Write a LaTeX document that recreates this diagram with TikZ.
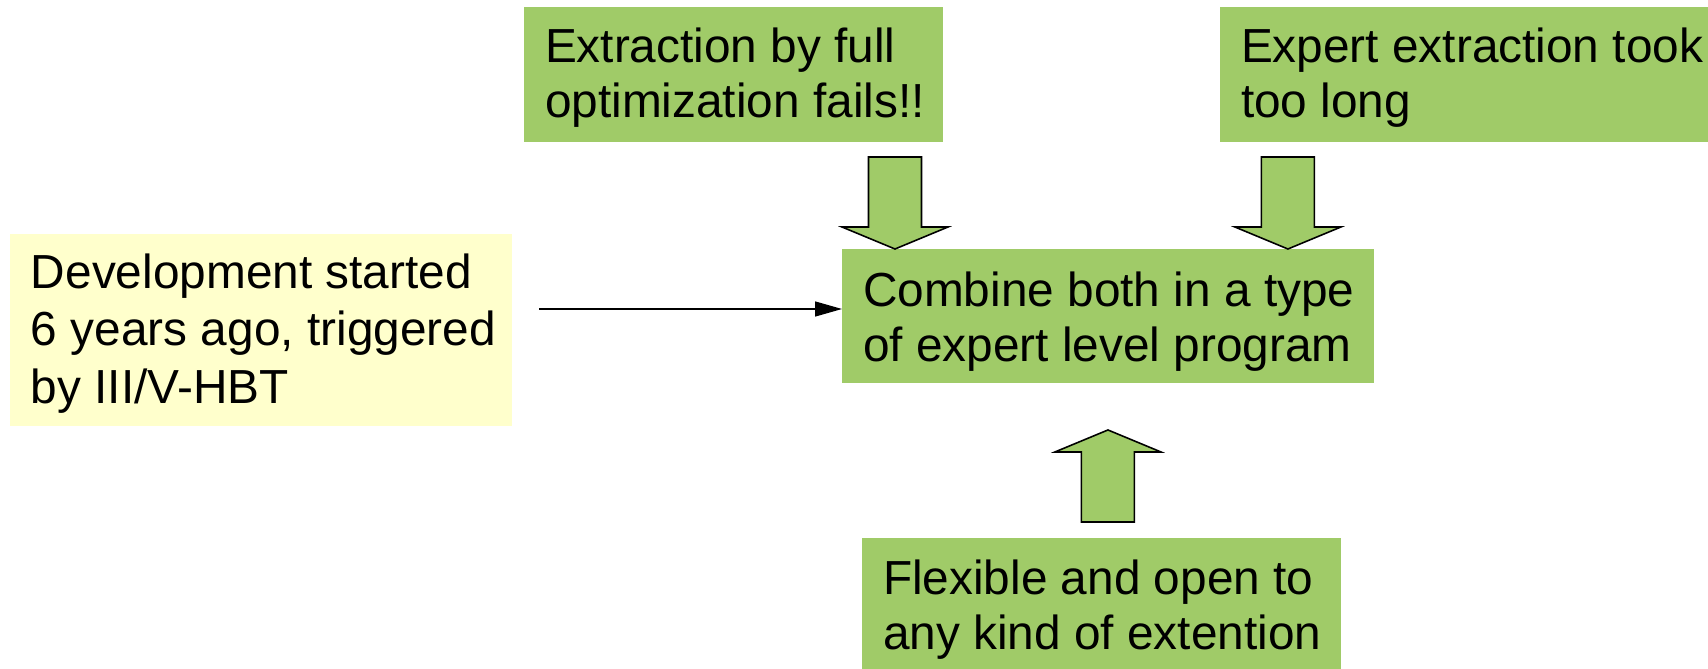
\documentclass[tikz,border=0pt]{standalone}
\usepackage{fontspec}
\setmainfont{Liberation Sans}
\usetikzlibrary{arrows.meta}

\definecolor{boxgreen}{RGB}{160,203,104}
\definecolor{boxyellow}{RGB}{255,255,204}

% width, height, top gap, lines
\newcommand{\boxlines}[4]{%
	\parbox[c][#2][t]{#1}{\vspace*{#3}\hspace*{0.42cm}\begin{tabular}[t]{@{}l@{}}#4\end{tabular}}}

\tikzset{
	greenbox/.style={fill=boxgreen, inner sep=0pt, outer sep=0pt, anchor=north west,
		font=\fontsize{27.2pt}{31.3pt}\selectfont},
	yellowbox/.style={greenbox, fill=boxyellow, font=\fontsize{27.2pt}{32.7pt}\selectfont},
	link/.style={line width=0.75pt, -{Triangle[length=0.54cm, width=0.3cm]}},
	blockarrow/.pic={
		\draw[fill=boxgreen, line width=0.9pt, line join=miter]
			(0,0) -- (-53,-22) -- (-26.5,-22) -- (-26.5,-92)
			-- (26.5,-92) -- (26.5,-22) -- (53,-22) -- cycle;
	}
}

\begin{document}
\begin{tikzpicture}[x=0.02cm, y=-0.02cm]
	\useasboundingbox (0,0) rectangle (1708,669);
	\clip (0,0) rectangle (1708,669);

	\node[greenbox] (extract) at (524,7)
		{\boxlines{8.38cm}{2.7cm}{0.35cm}{Extraction by full\\optimization fails!!}};
	\node[greenbox] (expert) at (1220,7)
		{\boxlines{10.4cm}{2.7cm}{0.35cm}{Expert extraction took\\too long}};
	\node[greenbox] (combine) at (842,249)
		{\boxlines{10.64cm}{2.68cm}{0.39cm}{Combine both in a type\\of expert level program}};
	\node[greenbox] (flex) at (862,538)
		{\boxlines{9.58cm}{2.7cm}{0.37cm}{Flexible and open to\\any kind of extention}};
	\node[yellowbox] (devel) at (10,234)
		{\boxlines{10.04cm}{3.84cm}{0.28cm}{Development started\\6 years ago, triggered\\by III/V-HBT}};

	\coordinate (devout) at (539,309);
	\draw[link] (devout) -- (devout -| combine.west);

	\pic at ([xshift=1.06cm]combine.north west) {blockarrow};
	\pic at ([xshift=-1.72cm]combine.north east) {blockarrow};
	\pic[rotate=180] at ([yshift=-0.94cm]combine.south) {blockarrow};
\end{tikzpicture}
\end{document}
